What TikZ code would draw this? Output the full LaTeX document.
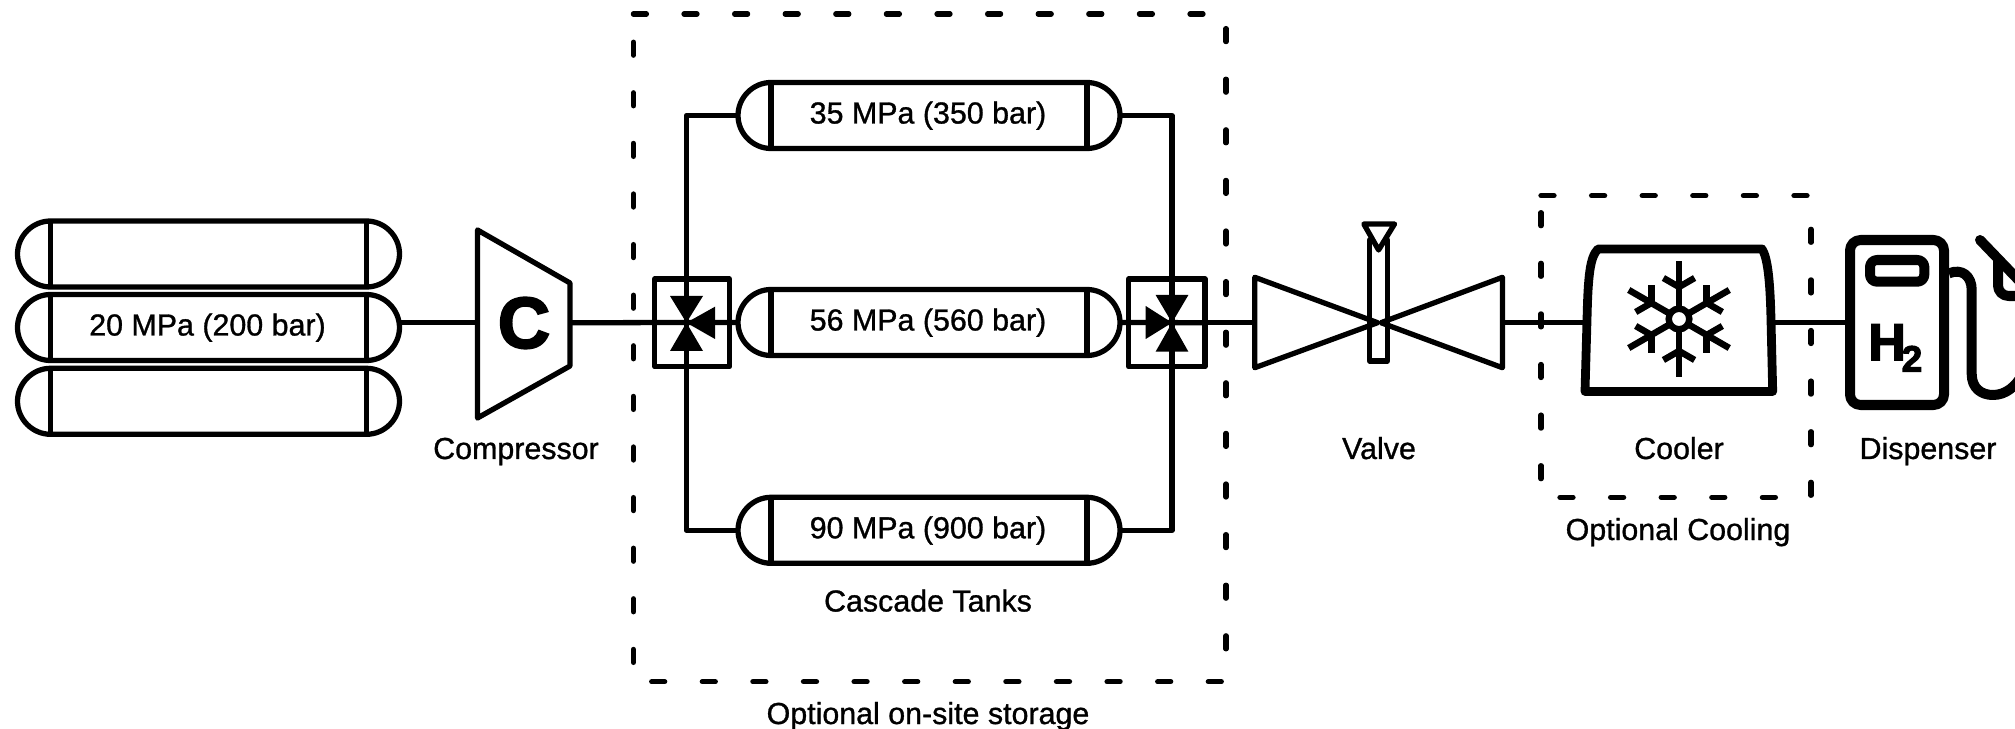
\documentclass[tikz,border=0pt]{standalone}
\usepackage{fontspec}
\setmainfont{Liberation Sans}
\newfontfamily\labelfont[RawFeature={embolden=1}]{Liberation Sans}
\newfontfamily\heavyfont[BoldFeatures={RawFeature={embolden=3}}]{Liberation Sans}
\newcommand{\tanknode}[4]{
    \draw[pipe] (#2-158,#3-33) -- (#2+158,#3-33)
        .. controls (#2+176,#3-33) and (#2+191,#3-18) .. (#2+191,#3)
        .. controls (#2+191,#3+18) and (#2+176,#3+33) .. (#2+158,#3+33)
        -- (#2-158,#3+33)
        .. controls (#2-176,#3+33) and (#2-191,#3+18) .. (#2-191,#3)
        .. controls (#2-191,#3-18) and (#2-176,#3-33) .. cycle;
    \draw[pipe] (#2-158,#3-33) -- (#2-158,#3+33);
    \draw[pipe] (#2+158,#3-33) -- (#2+158,#3+33);
    \node[labeltext] (#1) at (#2-1,#3+8) {#4};
    \coordinate (#1w) at (#2-191,#3);
    \coordinate (#1e) at (#2+191,#3);
}
\tikzset{
    pipe/.style = {line width=3pt, line join=round},
    heavy/.style = {line width=5pt, line join=round},
    pumpline/.style = {line width=5.7pt, line join=round},
    flake/.style = {line width=3.7pt},
    optbox/.style = {line width=3pt, line cap=round, dash pattern=on 7.4pt off 21.4pt},
    labeltext/.style = {font=\labelfont\fontsize{17.3}{20}\selectfont, inner sep=0pt, anchor=base},
    wedge/.style = {fill=black, draw=none}
}
\begin{document}
\begin{tikzpicture}[x=0.02cm,y=-0.02cm]
    \useasboundingbox (0,0) rectangle (2015,729);
    \clip (0,0) rectangle (2015,729);
    % supply bank
    \tanknode{tanktop}{208.5}{254}{}
    \tanknode{tankmid}{208.5}{327.5}{20 MPa (200 bar)}
    \tanknode{tanklow}{208.5}{401.3}{}
    \coordinate (bankout) at (399.5,322.7);
    % compressor
    \node[font=\heavyfont\fontsize{41}{46}\bfseries\selectfont, inner sep=0pt] (letterc) at (524,323) {C};
    \draw[pipe] (477.5,230) -- (570,283) -- (570,366) -- (477.5,418) -- cycle;
    \coordinate (cmpw) at (477.5,322.7);
    \coordinate (cmpe) at (570,322.7);
    \node[labeltext] (cmplabel) at (516,459) {Compressor};
    % cascade tanks
    \tanknode{tankhi}{929}{115.5}{35 MPa (350 bar)}
    \tanknode{tankmed}{929}{322.5}{56 MPa (560 bar)}
    \tanknode{tankvh}{929}{530.3}{90 MPa (900 bar)}
    \node[labeltext] (cascade) at (928,611.5) {Cascade Tanks};
    \draw[optbox] (633.4,14) -- (1226,14) -- (1226,681.7) -- (633.4,681.7) -- cycle;
    \node[labeltext] (storage) at (928,724) {Optional on-site storage};
    % valve blocks
    \draw[pipe] (654.8,279) rectangle (729.5,366.7);
    \draw[pipe] (1128.7,279) rectangle (1205,366.7);
    \coordinate (bla) at (686.4,322.7);
    \coordinate (bra) at (1172,322.7);
    \coordinate (bre) at (1205,322.7);
    \fill[wedge] (bla) -- (670,296) -- (703,296) -- cycle;
    \fill[wedge] (bla) -- (670,351) -- (703,351) -- cycle;
    \fill[wedge] (bla) -- (715,306.7) -- (715,339) -- cycle;
    \fill[wedge] (bra) -- (1155.6,295) -- (1188.4,295) -- cycle;
    \fill[wedge] (bra) -- (1155.6,351.7) -- (1188.4,351.7) -- cycle;
    \fill[wedge] (bra) -- (1145.7,306) -- (1145.7,339) -- cycle;
    % expansion valve
    \draw[pipe] (1369.7,240) rectangle (1387.5,361);
    \draw[pipe,fill=white] (1363.8,224) -- (1394.5,224) -- (1378.6,250) -- cycle;
    \draw[pipe] (1254.8,277.3) -- (1377.6,322.7) -- (1254.8,367.7) -- cycle;
    \draw[pipe] (1502.4,277.3) -- (1381,322.7) -- (1502.4,367.7) -- cycle;
    \coordinate (vlvw) at (1254.8,322.7);
    \coordinate (vlve) at (1502.4,322.7);
    \node[labeltext] (vlvlabel) at (1379,459) {Valve};
    % cooler
    \draw[heavy] (1585,391.5) -- (1587,320) .. controls (1588,275) and (1590,257) .. (1598,249)
        -- (1762,249) .. controls (1767,257) and (1770,275) .. (1771,320) -- (1772.7,391.5) -- cycle;
    \coordinate (clrw) at (1586,322.7);
    \coordinate (clre) at (1772,322.7);
    \coordinate (snow) at (1679,319);
    \foreach \ang in {30,90,150,210,270,330}
    {
        \draw[flake] (snow) ++(\ang:10) -- ++(\ang:48);
        \draw[flake] (snow) ++(\ang:32) -- ++(\ang+60:18);
        \draw[flake] (snow) ++(\ang:32) -- ++(\ang-60:18);
    }
    \draw[flake] (snow) circle (10.3);
    \node[labeltext] (clrlabel) at (1679,459) {Cooler};
    \draw[optbox] (1541,195.7) -- (1811,195.7) -- (1811,497.3) -- (1541,497.3) -- cycle;
    \node[labeltext] (coolopt) at (1678,540) {Optional Cooling};
    % dispenser
    \draw[pumpline,rounded corners=6pt] (1850,240) rectangle (1944,405);
    \draw[pumpline,rounded corners=4pt] (1870,260) rectangle (1924.3,281.7);
    \node[font=\heavyfont\fontsize{29.5}{32}\bfseries\selectfont, inner sep=0pt, anchor=base west] (htwo) at (1868,360)
        {H\kern-2.3pt\raisebox{-6.65pt}{\fontsize{21}{24}\selectfont 2}};
    \draw[pumpline] (1949,273.3) .. controls (1962,268) and (1971.7,276) .. (1971.7,290)
        -- (1971.7,374) .. controls (1971.7,388) and (1981,395) .. (1993,395)
        .. controls (2006,395) and (2016,386) .. (2022,375);
    \draw[pumpline,line cap=round] (1980,240) -- (2030,292);
    \draw[pumpline,rounded corners=6pt] (1998,258) -- (1998,296) -- (2030,296);
    \coordinate (dspw) at (1850,322.7);
    \node[labeltext] (displabel) at (1928,459) {Dispenser};
    % pipe runs
    \foreach \from/\to in {bankout/cmpw, cmpe/tankmedw, tankmede/bre, bre/vlvw, vlve/clrw, clre/dspw}
        \draw[pipe] (\from) -- (\to);
    \foreach \from/\to in {tankhiw/bla, tankvhw/bla, tankhie/bra, tankvhe/bra}
        \draw[pipe] (\from) -| (\to);
\end{tikzpicture}
\end{document}
